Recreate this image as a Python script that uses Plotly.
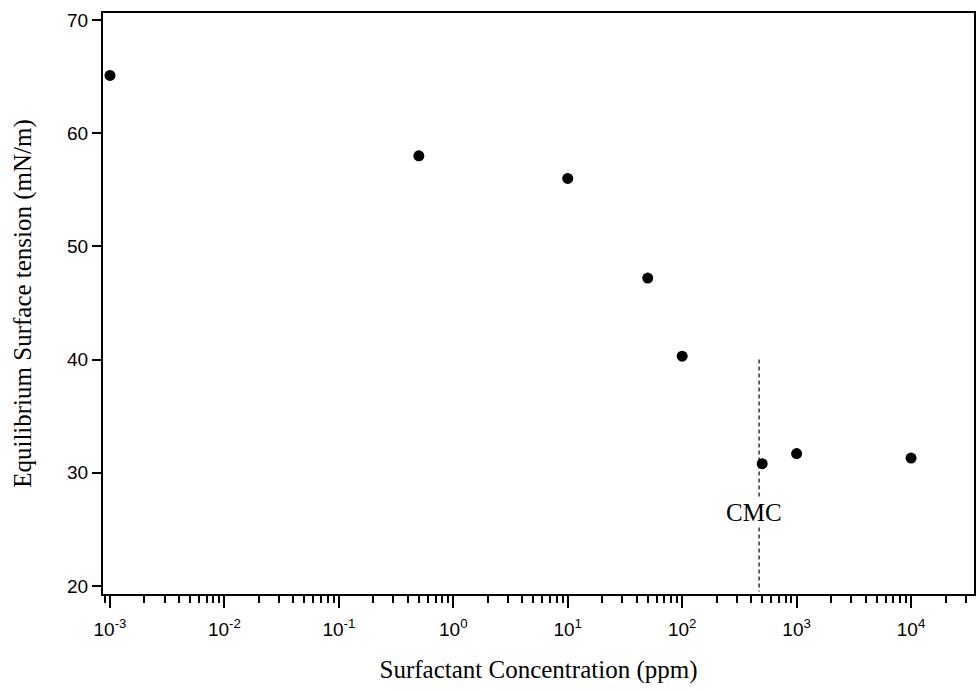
import numpy as np
import plotly.graph_objects as go

# Data
concentration_ppm = [0.001, 0.5, 10, 50, 100, 500, 1000, 10000]
surface_tension = [65.1, 58.0, 56.0, 47.2, 40.3, 30.8, 31.7, 31.3]

x_tick_vals = [1e-3, 1e-2, 1e-1, 1e0, 1e1, 1e2, 1e3, 1e4]
x_tick_text = ["10<sup>-3</sup>", "10<sup>-2</sup>", "10<sup>-1</sup>", "10<sup>0</sup>",
               "10<sup>1</sup>", "10<sup>2</sup>", "10<sup>3</sup>", "10<sup>4</sup>"]

cmc_value = 470
cmc_line_y = [40, 19.5]
cmc_label = "CMC"
cmc_label_y = 26.5

x_title = "Surfactant Concentration (ppm)"
y_title = "Equilibrium Surface tension (mN/m)"

fig = go.Figure()

fig.add_trace(go.Scatter(
    x=[cmc_value, cmc_value], y=cmc_line_y, mode="lines",
    line=dict(color="black", width=1.2, dash="4px,3px"),
    showlegend=False, hoverinfo="skip",
))

fig.add_trace(go.Scatter(
    x=concentration_ppm, y=surface_tension, mode="markers",
    marker=dict(color="black", size=11),
    showlegend=False,
))

fig.add_annotation(
    x=np.log10(cmc_value), y=cmc_label_y, text=cmc_label,
    showarrow=False, bgcolor="white", xshift=-5, borderpad=0,
    font=dict(family="Liberation Serif, Times New Roman, serif", size=25, color="black"),
)

tick_font = dict(family="Liberation Sans, Arial, sans-serif", size=19, color="black")
title_font = dict(family="Liberation Serif, Times New Roman, serif", size=25, color="black")

fig.update_layout(
    width=976, height=691,
    margin=dict(l=103, r=2, t=13, b=97, autoexpand=False),
    paper_bgcolor="white", plot_bgcolor="white",
    xaxis=dict(
        type="log", range=[-3.061, 4.55], automargin=False,
        tickmode="array", tickvals=x_tick_vals, ticktext=x_tick_text,
        showgrid=False, zeroline=False,
        showline=True, linecolor="black", linewidth=2, mirror=True,
        ticks="outside", ticklen=12, tickwidth=2, tickcolor="black",
        ticklabelstandoff=5,
        minor=dict(ticks="outside", ticklen=7, tickwidth=1.5, tickcolor="black",
                   dtick="D1", showgrid=False),
        tickfont=tick_font,
        title=dict(text=x_title, font=title_font, standoff=22),
    ),
    yaxis=dict(
        range=[19.29, 70.62], dtick=10, automargin=False,
        showgrid=False, zeroline=False,
        showline=True, linecolor="black", linewidth=2, mirror=True,
        ticks="outside", ticklen=9, tickwidth=2, tickcolor="black",
        tickfont=tick_font,
        title=dict(text=y_title, font=title_font, standoff=28),
    ),
)

# Remove the browser's default 8px page margin so the figure fills the window exactly.
fig.write_html("out.html", config={"displayModeBar": False},
               post_script="document.body.style.margin='0';")
